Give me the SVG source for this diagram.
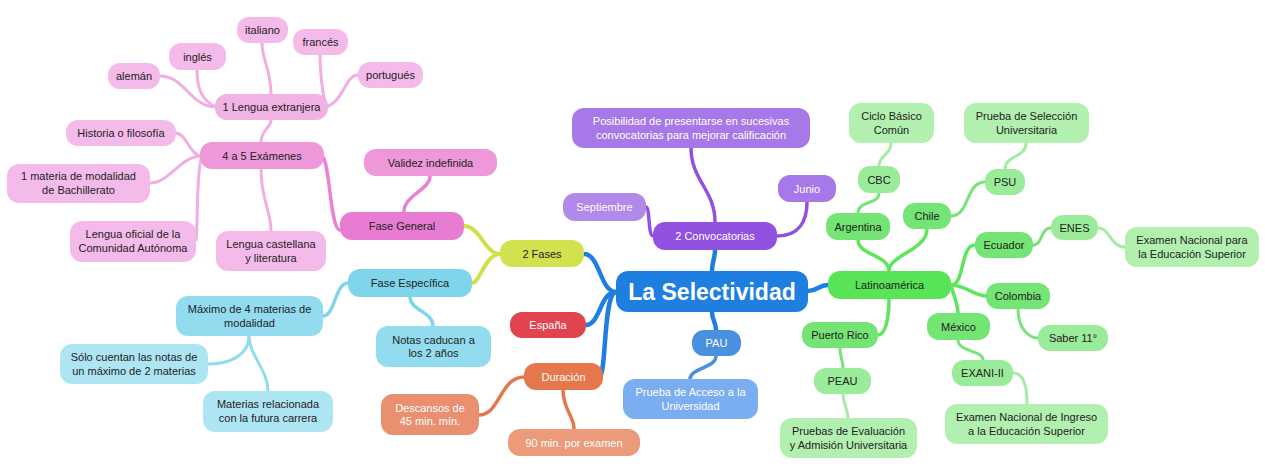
<svg xmlns="http://www.w3.org/2000/svg" width="1265" height="472" viewBox="0 0 1265 472">
<style>
text{font-family:"Liberation Sans",Arial,sans-serif;font-size:11px;text-anchor:middle;fill:#222}
.w{fill:#fff}
.c path{fill:none;stroke-linecap:round}
.root{stroke:#1f7fe0;stroke-width:4.5}
.yg{stroke:#cfe04a;stroke-width:4}
.pk{stroke:#ea82d4;stroke-width:3.5}
.pl{stroke:#f0aee2;stroke-width:3}
.lb{stroke:#7fd5ea;stroke-width:3.5}
.lb2{stroke:#93dcef;stroke-width:3}
.or{stroke:#e4784c;stroke-width:3.5}
.pu{stroke:#9251e0;stroke-width:3.5}
.bl{stroke:#4a90e0;stroke-width:3.5}
.gr{stroke:#5ce65c;stroke-width:3.5}
.g2{stroke:#7ae27a;stroke-width:3}
.g3{stroke:#a4eca4;stroke-width:3}
</style>
<rect width="1265" height="472" fill="#fff"/>
<g id="connectors" class="c">
<path class="root" d="M616,292 C600,292 600,254 584,254"/>
<path class="root" d="M616,292 C600,292 600,325 586,325"/>
<path class="root" d="M614,293 C604,300 606,370 600,377"/>
<path class="root" d="M712,271 C712,262 715,258 715,250"/>
<path class="root" d="M712,312 C712,320 716,322 716,330"/>
<path class="root" d="M808,291 C818,291 818,285 828,285"/>
<path class="yg" d="M500,254 C485,254 480,226 464,226"/>
<path class="yg" d="M500,254 C485,254 480,283 472,283"/>
<path class="pk" d="M340,230 C330,230 330,160 322,156"/>
<path class="pk" d="M404,212 C404,195 430,190 430,176"/>
<path class="pl" d="M202,156 C190,156 186,133 176,133"/>
<path class="pl" d="M202,156 C180,156 170,183 150,183"/>
<path class="pl" d="M202,156 C196,170 198,230 196,240"/>
<path class="pl" d="M261,142 C261,130 271,128 271,120"/>
<path class="pl" d="M261,169 C261,200 271,210 271,231"/>
<path class="pl" d="M216,107 C190,107 185,76 160,76"/>
<path class="pl" d="M216,107 C200,100 197,85 197,70"/>
<path class="pl" d="M271,94 C271,70 262,60 262,43"/>
<path class="pl" d="M326,107 C322,90 320,70 320,55"/>
<path class="pl" d="M326,107 C345,100 345,75 358,75"/>
<path class="lb" d="M348,283 C335,283 335,316 323,316"/>
<path class="lb" d="M410,297 C410,310 433,312 433,326"/>
<path class="lb2" d="M249,336 C249,355 230,364 208,364"/>
<path class="lb2" d="M249,336 C249,355 268,370 268,391"/>
<path class="or" d="M524,377 C500,377 500,415 479,415"/>
<path class="or" d="M563,390 C563,410 574,415 574,429"/>
<path class="pu" d="M653,236 C648,236 650,207 646,207"/>
<path class="pu" d="M715,222 C715,190 691,180 691,148"/>
<path class="pu" d="M777,236 C800,236 807,220 807,202"/>
<path class="bl" d="M716,356 C716,368 690,368 690,379"/>
<path class="gr" d="M889,271 C889,255 858,255 858,240"/>
<path class="gr" d="M889,271 C889,255 927,250 927,229"/>
<path class="gr" d="M951,285 C965,285 960,245 975,245"/>
<path class="gr" d="M951,285 C965,285 975,296 986,296"/>
<path class="gr" d="M951,285 C955,300 958,305 958,313"/>
<path class="gr" d="M889,299 C889,320 885,335 878,335"/>
<path class="g2" d="M858,213 C858,200 879,205 879,193"/>
<path class="g2" d="M951,216 C970,216 965,182 985,182"/>
<path class="g2" d="M1033,245 C1043,245 1040,228 1051,228"/>
<path class="g2" d="M1018,309 C1018,330 1030,338 1038,338"/>
<path class="g2" d="M958,340 C958,352 983,350 983,360"/>
<path class="g2" d="M840,348 C840,358 843,360 843,368"/>
<path class="g3" d="M879,166 C879,155 891,155 891,143"/>
<path class="g3" d="M1005,169 C1005,155 1026,158 1026,143"/>
<path class="g3" d="M1098,228 C1110,228 1110,247 1125,247"/>
<path class="g3" d="M1013,373 C1025,373 1027,390 1027,404"/>
<path class="g3" d="M843,394 C843,405 848,408 848,418"/>
</g>
<g id="root"><rect x="616" y="271" width="192" height="41" rx="12" fill="#1f7fe0"/><text x="712" y="299.5" class="w" style="font-size:23px;font-weight:bold">La Selectividad</text></g>
<g id="italiano"><rect x="237" y="17" width="51" height="26" rx="12" fill="#f4bbea"/><text x="262.5" y="34">italiano</text></g>
<g id="ingles"><rect x="169" y="43" width="57" height="27" rx="12" fill="#f4bbea"/><text x="197.5" y="60.5">inglés</text></g>
<g id="frances"><rect x="293" y="29" width="55" height="26" rx="12" fill="#f4bbea"/><text x="320.5" y="46">francés</text></g>
<g id="aleman"><rect x="108" y="63" width="52" height="26" rx="12" fill="#f4bbea"/><text x="134" y="80">alemán</text></g>
<g id="portugues"><rect x="358" y="62" width="65" height="26" rx="12" fill="#f4bbea"/><text x="390.5" y="79">portugués</text></g>
<g id="lengua-extranjera"><rect x="215" y="94" width="113" height="26" rx="12" fill="#f1b2e4"/><text x="271.5" y="111">1 Lengua extranjera</text></g>
<g id="historia"><rect x="66" y="120" width="110" height="26" rx="12" fill="#f4bbea"/><text x="121" y="137">Historia o filosofía</text></g>
<g id="examenes"><rect x="200" y="142" width="124" height="27" rx="12" fill="#ee98da"/><text x="262" y="160">4 a 5 Exámenes</text></g>
<g id="materia-modalidad"><rect x="7" y="164" width="143" height="39" rx="12" fill="#f4bbea"/><text x="78.5" y="180">1 materia de modalidad</text><text x="78.5" y="194">de Bachillerato</text></g>
<g id="lengua-oficial"><rect x="70" y="221" width="126" height="41" rx="12" fill="#f4bbea"/><text x="133" y="238">Lengua oficial de la</text><text x="133" y="252">Comunidad Autónoma</text></g>
<g id="lengua-castellana"><rect x="216" y="231" width="110" height="40" rx="12" fill="#f4bbea"/><text x="271" y="248">Lengua castellana</text><text x="271" y="262">y literatura</text></g>
<g id="validez"><rect x="364" y="149" width="133" height="27" rx="12" fill="#ee98da"/><text x="430.5" y="167">Validez indefinida</text></g>
<g id="fase-general"><rect x="340" y="212" width="124" height="28" rx="12" fill="#e87bd2"/><text x="402" y="230">Fase General</text></g>
<g id="fase-especifica"><rect x="348" y="269" width="124" height="28" rx="12" fill="#7fd5ea"/><text x="410" y="287">Fase Específica</text></g>
<g id="maximo"><rect x="176" y="296" width="147" height="40" rx="12" fill="#93dcef"/><text x="249.5" y="313">Máximo de 4 materias de</text><text x="249.5" y="327">modalidad</text></g>
<g id="notas"><rect x="376" y="326" width="115" height="41" rx="12" fill="#93dcef"/><text x="433.5" y="344">Notas caducan a</text><text x="433.5" y="357">los 2 años</text></g>
<g id="solo"><rect x="60" y="344" width="148" height="40" rx="12" fill="#aee5f3"/><text x="134" y="361">Sólo cuentan las notas de</text><text x="134" y="375">un máximo de 2 materias</text></g>
<g id="materias-rel"><rect x="203" y="391" width="130" height="41" rx="12" fill="#aee5f3"/><text x="268" y="408">Materias relacionada</text><text x="268" y="422">con la futura carrera</text></g>
<g id="dos-fases"><rect x="500" y="240" width="84" height="27" rx="12" fill="#d2e24e"/><text x="542" y="258">2 Fases</text></g>
<g id="espana"><rect x="510" y="312" width="76" height="26" rx="12" fill="#e0454f"/><text x="548" y="329" class="w">España</text></g>
<g id="duracion"><rect x="524" y="363" width="79" height="27" rx="12" fill="#e4784c"/><text x="563.5" y="381" class="w">Duración</text></g>
<g id="descansos"><rect x="381" y="394" width="98" height="41" rx="12" fill="#e8906f"/><text x="430" y="412" class="w">Descansos de</text><text x="430" y="425" class="w">45 min. mín.</text></g>
<g id="noventa"><rect x="508" y="429" width="132" height="27" rx="12" fill="#eb9a7a"/><text x="574" y="447" class="w">90 min. por examen</text></g>
<g id="posibilidad"><rect x="572" y="108" width="238" height="40" rx="12" fill="#a678e8"/><text x="691" y="125" class="w">Posibilidad de presentarse en sucesivas</text><text x="691" y="139" class="w">convocatorias para mejorar calificación</text></g>
<g id="septiembre"><rect x="563" y="193" width="83" height="28" rx="12" fill="#b089ea"/><text x="604.5" y="211" class="w">Septiembre</text></g>
<g id="junio"><rect x="778" y="175" width="58" height="27" rx="12" fill="#a678e8"/><text x="807" y="193" class="w">Junio</text></g>
<g id="convocatorias"><rect x="653" y="222" width="124" height="28" rx="12" fill="#9251e0"/><text x="715" y="240" class="w">2 Convocatorias</text></g>
<g id="pau"><rect x="692" y="330" width="49" height="26" rx="12" fill="#4a90e0"/><text x="716.5" y="347" class="w">PAU</text></g>
<g id="prueba-acceso"><rect x="623" y="379" width="135" height="40" rx="12" fill="#7aaef0"/><text x="690.5" y="396" class="w">Prueba de Acceso a la</text><text x="690.5" y="410" class="w">Universidad</text></g>
<g id="latinoamerica"><rect x="828" y="271" width="123" height="28" rx="12" fill="#57e457"/><text x="889.5" y="289">Latinoamérica</text></g>
<g id="ciclo"><rect x="849" y="103" width="85" height="40" rx="12" fill="#b2f0b0"/><text x="891.5" y="120">Ciclo Básico</text><text x="891.5" y="134">Común</text></g>
<g id="cbc"><rect x="858" y="166" width="42" height="27" rx="12" fill="#9aeb9a"/><text x="879" y="184">CBC</text></g>
<g id="argentina"><rect x="826" y="213" width="64" height="27" rx="12" fill="#74e474"/><text x="858" y="231">Argentina</text></g>
<g id="chile"><rect x="903" y="203" width="48" height="26" rx="12" fill="#74e474"/><text x="927" y="220">Chile</text></g>
<g id="psu"><rect x="985" y="169" width="40" height="26" rx="12" fill="#9aeb9a"/><text x="1005" y="186">PSU</text></g>
<g id="prueba-seleccion"><rect x="964" y="103" width="125" height="40" rx="12" fill="#b2f0b0"/><text x="1026.5" y="120">Prueba de Selección</text><text x="1026.5" y="134">Universitaria</text></g>
<g id="ecuador"><rect x="975" y="232" width="58" height="26" rx="12" fill="#74e474"/><text x="1004" y="249">Ecuador</text></g>
<g id="enes"><rect x="1051" y="215" width="47" height="25" rx="12" fill="#9aeb9a"/><text x="1074.5" y="232">ENES</text></g>
<g id="examen-nacional-para"><rect x="1125" y="227" width="134" height="40" rx="12" fill="#b2f0b0"/><text x="1192" y="244">Examen Nacional para</text><text x="1192" y="258">la Educación Superior</text></g>
<g id="colombia"><rect x="986" y="283" width="64" height="26" rx="12" fill="#74e474"/><text x="1018" y="300">Colombia</text></g>
<g id="saber"><rect x="1038" y="325" width="70" height="26" rx="12" fill="#9aeb9a"/><text x="1073" y="342">Saber 11°</text></g>
<g id="mexico"><rect x="927" y="313" width="63" height="27" rx="12" fill="#74e474"/><text x="958.5" y="331">México</text></g>
<g id="exani"><rect x="952" y="360" width="61" height="26" rx="12" fill="#9aeb9a"/><text x="982.5" y="377">EXANI-II</text></g>
<g id="examen-ingreso"><rect x="945" y="404" width="163" height="40" rx="12" fill="#b2f0b0"/><text x="1026.5" y="421">Examen Nacional de Ingreso</text><text x="1026.5" y="435">a la Educación Superior</text></g>
<g id="puerto-rico"><rect x="802" y="322" width="76" height="26" rx="12" fill="#74e474"/><text x="840" y="339">Puerto Rico</text></g>
<g id="peau"><rect x="814" y="368" width="57" height="26" rx="12" fill="#9aeb9a"/><text x="842.5" y="385">PEAU</text></g>
<g id="pruebas-eval"><rect x="780" y="418" width="137" height="40" rx="12" fill="#b2f0b0"/><text x="848.5" y="435">Pruebas de Evaluación</text><text x="848.5" y="449">y Admisión Universitaria</text></g>
</svg>
